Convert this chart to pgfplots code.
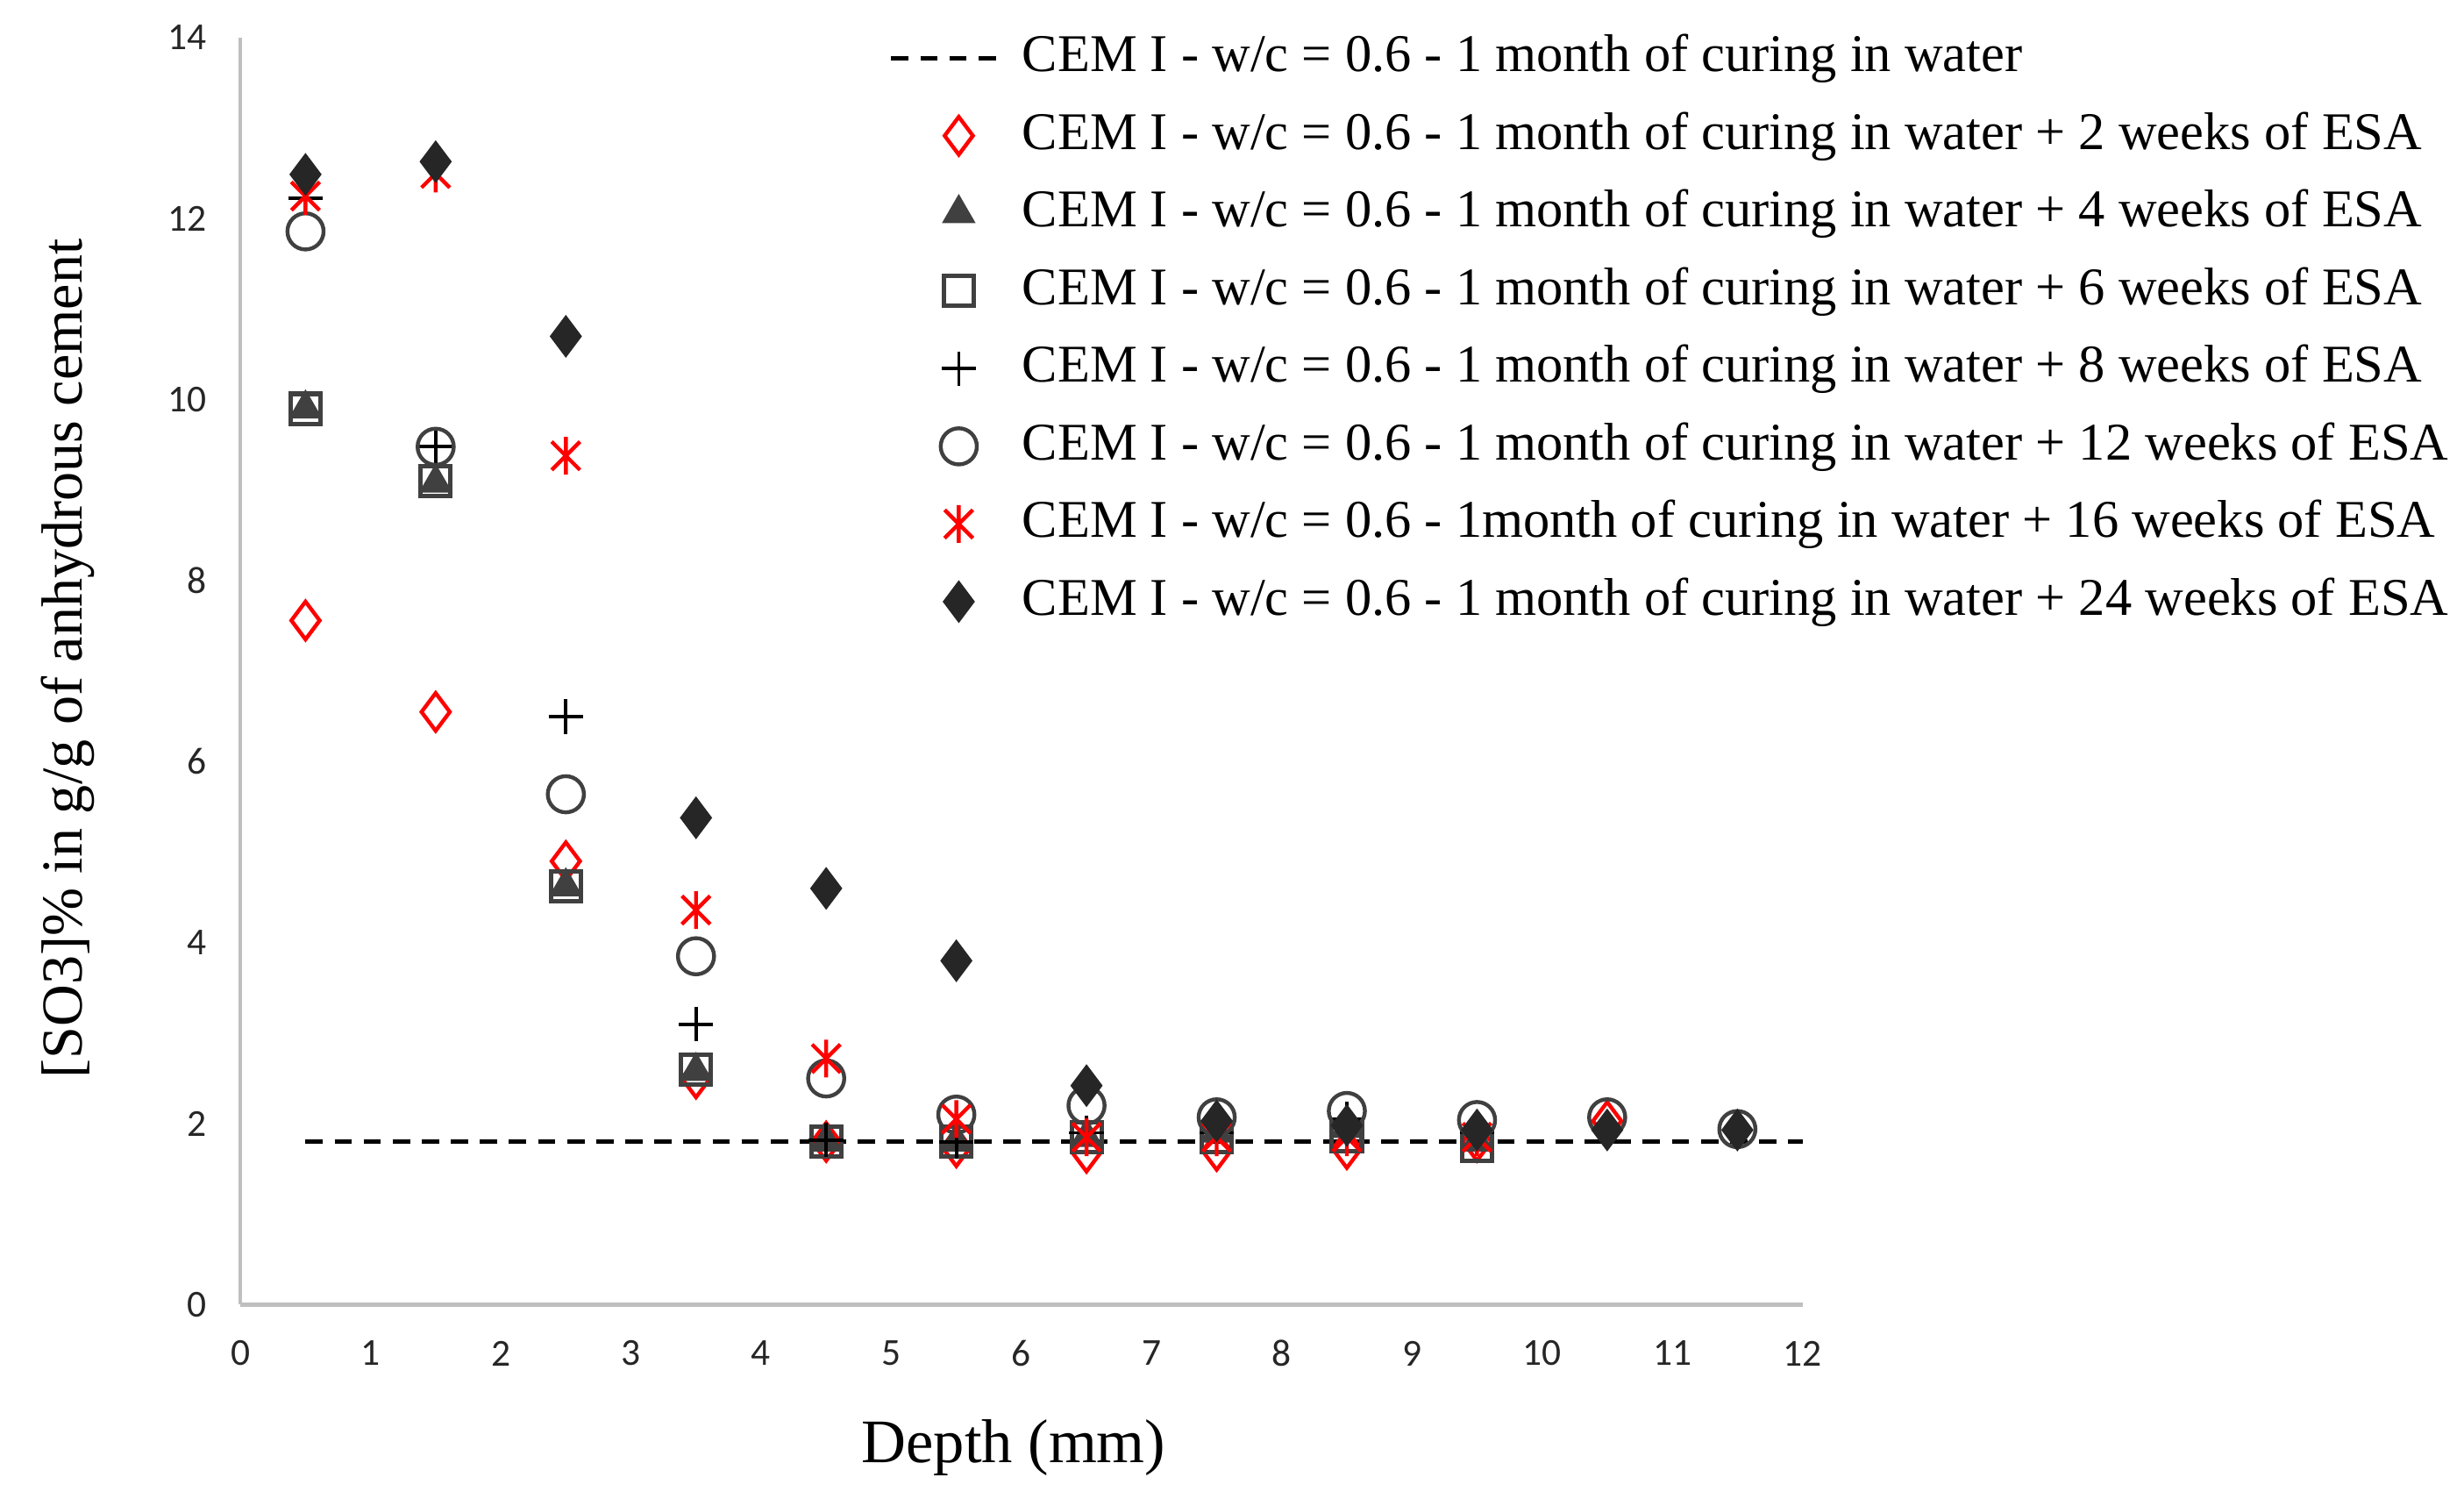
\documentclass[border=0pt]{standalone}
\usepackage{fontspec}
\setmainfont{Liberation Serif}
\newfontfamily\tickfont{Carlito}
\usepackage{pgfplots}
\pgfplotsset{compat=1.18}

\definecolor{markgray}{HTML}{404040}
\definecolor{diamdark}{HTML}{262626}
\definecolor{axisgray}{HTML}{BFBFBF}

% Excel-style star: X with a vertical bar
\pgfdeclareplotmark{xstar}{%
  \pgfpathmoveto{\pgfqpoint{0pt}{\pgfplotmarksize}}%
  \pgfpathlineto{\pgfqpoint{0pt}{-\pgfplotmarksize}}%
  \pgfpathmoveto{\pgfqpoint{-0.75\pgfplotmarksize}{0.75\pgfplotmarksize}}%
  \pgfpathlineto{\pgfqpoint{0.75\pgfplotmarksize}{-0.75\pgfplotmarksize}}%
  \pgfpathmoveto{\pgfqpoint{-0.75\pgfplotmarksize}{-0.75\pgfplotmarksize}}%
  \pgfpathlineto{\pgfqpoint{0.75\pgfplotmarksize}{0.75\pgfplotmarksize}}%
  \pgfusepathqstroke}

\pgfplotsset{dashleg/.style={legend image code/.code={\draw[##1] (-0.13cm,0cm) -- (0.57cm,0cm);}}}

\begin{document}
\begin{tikzpicture}
\useasboundingbox (-15.3mm,-12.8mm) rectangle (141.5mm,83mm);
\begin{axis}[
    at={(0,0)}, anchor=origin,
    scale only axis,
    width=99.4mm, height=80.6mm,
    xmin=0, xmax=12, ymin=0, ymax=14,
    xtick={0,1,...,12}, ytick={0,2,...,14},
    axis x line*=bottom, axis y line*=left,
    axis line style={draw=axisgray, line width=0.7pt},
    major tick length=0pt,
    clip=false,
    tick label style={font=\tickfont\fontsize{6.9}{8}\selectfont, inner sep=0pt,
        /pgf/number format/assume math mode=true, text=black!85},
    xticklabel style={anchor=center, yshift=-3.1mm},
    yticklabel style={anchor=east, xshift=-2.1mm},
    xlabel={Depth (mm)},
    xlabel style={font=\fontsize{11.2}{13}\selectfont, at={([yshift=-9.1mm]axis description cs:0.495,0)}, anchor=center},
    ylabel={[SO3]\% in g/g of anhydrous cement},
    ylabel style={font=\fontsize{10.5}{12}\selectfont, at={([xshift=-11mm]axis description cs:0,0.51)}, anchor=center},
    legend cell align=left,
    legend style={draw=none, fill=none, inner sep=0pt,
        at={(axis description cs:0.4145,1.0065)}, anchor=north west,
        font=\fontsize{9.6}{12}\selectfont,
        row sep=1.44mm, column sep=1.2mm,
        nodes={text height=2.6mm, text depth=0.9mm, inner sep=0pt}},
]

\addplot[black, line width=0.8pt, dash pattern=on 1.1mm off 0.75mm, dashleg]
    coordinates {(0.5,1.8) (12,1.8)};
\addlegendentry{CEM I - w/c = 0.6 - 1 month of curing in water}

\addplot[only marks, mark=diamond, mark size=1.2mm, red, mark options={line width=0.7pt}]
    coordinates {(0.5,7.56) (1.5,6.55) (2.5,4.9) (3.5,2.5) (4.5,1.8) (5.5,1.74)
    (6.5,1.68) (7.5,1.7) (8.5,1.72) (9.5,1.8) (10.5,2.03)};
\addlegendentry{CEM I - w/c = 0.6 - 1 month of curing in water + 2 weeks of ESA}

\addplot[only marks, mark=triangle*, mark size=1.1mm, markgray]
    coordinates {(0.5,9.9) (1.5,9.08) (2.5,4.62) (3.5,2.58) (4.5,1.8) (5.5,1.8)
    (6.5,1.85) (7.5,1.9) (8.5,1.95) (9.5,1.8)};
\addlegendentry{CEM I - w/c = 0.6 - 1 month of curing in water + 4 weeks of ESA}

\addplot[only marks, mark=square, mark size=0.95mm, markgray, mark options={line width=0.8pt}]
    coordinates {(0.5,9.9) (1.5,9.1) (2.5,4.62) (3.5,2.6) (4.5,1.8) (5.5,1.8)
    (6.5,1.85) (7.5,1.85) (8.5,1.86) (9.5,1.75)};
\addlegendentry{CEM I - w/c = 0.6 - 1 month of curing in water + 6 weeks of ESA}

\addplot[only marks, mark=+, mark size=1.1mm, black, mark options={line width=0.6pt}]
    coordinates {(0.5,12.23) (1.5,9.48) (2.5,6.5) (3.5,3.1) (4.5,1.82) (5.5,1.8)
    (6.5,1.9) (7.5,1.9) (8.5,2.05) (9.5,1.9)};
\addlegendentry{CEM I - w/c = 0.6 - 1 month of curing in water + 8 weeks of ESA}

\addplot[only marks, mark=o, mark size=1.15mm, markgray, mark options={line width=0.7pt}]
    coordinates {(0.5,11.86) (1.5,9.48) (2.5,5.64) (3.5,3.85) (4.5,2.5) (5.5,2.1)
    (6.5,2.2) (7.5,2.07) (8.5,2.14) (9.5,2.04) (10.5,2.07) (11.5,1.94)};
\addlegendentry{CEM I - w/c = 0.6 - 1 month of curing in water + 12 weeks of ESA}

\addplot[only marks, mark=xstar, mark size=1.2mm, red, mark options={line width=0.7pt}]
    coordinates {(0.5,12.25) (1.5,12.5) (2.5,9.38) (3.5,4.36) (4.5,2.72) (5.5,2.05)
    (6.5,1.85) (7.5,1.85) (8.5,1.85) (9.5,1.85)};
\addlegendentry{CEM I - w/c = 0.6 - 1month of curing in water + 16 weeks of ESA}

\addplot[only marks, mark=diamond*, mark size=1.25mm, diamdark]
    coordinates {(0.5,12.49) (1.5,12.63) (2.5,10.7) (3.5,5.38) (4.5,4.6) (5.5,3.8)
    (6.5,2.42) (7.5,2.03) (8.5,1.98) (9.5,1.93) (10.5,1.93) (11.5,1.93)};
\addlegendentry{CEM I - w/c = 0.6 - 1 month of curing in water + 24 weeks of ESA}

\end{axis}
\end{tikzpicture}
\end{document}
